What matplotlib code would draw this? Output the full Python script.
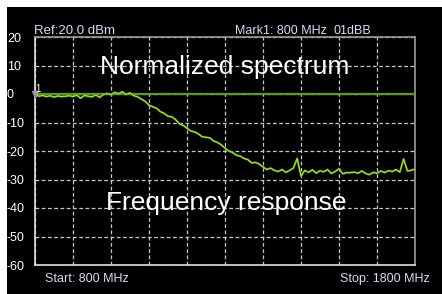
import numpy as np
import matplotlib
matplotlib.use('Agg')
import matplotlib.pyplot as plt
from matplotlib.patches import Rectangle

plt.rcParams['font.family'] = ['Liberation Sans', 'DejaVu Sans']

# sweep
start_mhz, stop_mhz = 800, 1800
level_ticks = [20, 10, 0, -10, -20, -30, -40, -50, -60]

# normalized spectrum (flat reference)
norm_freq = [800, 1800]
norm_db = [0.0, 0.0]

# frequency response, 10 MHz steps
resp_db = [
    -0.2, -0.8, -0.5, -0.9, -0.6, -1.1, -0.7, -0.9, -0.8, -0.6,
    -0.9, -0.4, -1.5, -0.5, -0.8, -1.0, -0.3, -1.2, -0.2, 0.2,
    -0.3, 0.6, 0.1, 0.8, -0.2, 0.4, -0.6, -1.0, -1.8, -2.6,
    -3.9, -4.5, -5.0, -6.2, -6.8, -7.8, -8.0, -9.0, -10.5, -11.0,
    -12.0, -13.0, -13.3, -14.0, -15.0, -15.2, -15.4, -16.5, -17.0, -17.8,
    -19.0, -20.0, -20.5, -21.5, -21.8, -22.6, -23.0, -24.2, -24.0, -24.6,
    -25.6, -26.5, -26.0, -26.8, -27.2, -26.5, -27.5, -26.8, -26.0, -22.6,
    -28.8, -26.8, -27.5, -26.6, -27.8, -26.9, -27.3, -26.5, -27.9, -27.2,
    -26.2, -28.0, -27.6, -27.6, -27.4, -27.8, -27.0, -27.9, -28.3, -27.5,
    -27.8, -27.0, -27.6, -26.9, -27.2, -26.5, -27.4, -22.8, -27.0, -26.8,
    -26.3,
]
resp_freq = np.linspace(start_mhz, stop_mhz, len(resp_db))

mark_freq, mark_db = 800, 0

W, H = 442, 294
fig = plt.figure(figsize=(W / 100, H / 100), dpi=100)
fig.patch.set_facecolor('white')
fig.patches.append(Rectangle((7 / W, 0), 1 - 7 / W, (H - 7) / H,
                             transform=fig.transFigure, facecolor='black',
                             edgecolor='none', zorder=-10))

ax = fig.add_axes([35 / W, (H - 265) / H, 380 / W, 228 / H])
ax.set_zorder(1)
ax.set_facecolor('black')
ax.set_xlim(start_mhz, stop_mhz)
ax.set_ylim(-60, 20)

ax.set_xticks(np.linspace(start_mhz, stop_mhz, 11))
ax.set_yticks(level_ticks)
ax.set_xticklabels([])
ax.set_yticklabels([str(v) for v in level_ticks], color='white', fontsize=9,
                   ha='left')
ax.tick_params(axis='y', length=0, pad=20.2)
ax.tick_params(axis='x', length=0)
ax.grid(True, color='#c8c8c8', linestyle=(0, (3, 2)), linewidth=0.9)

for side in ['top', 'right']:
    ax.spines[side].set_color('#9a9a9a')
for side in ['left', 'bottom']:
    ax.spines[side].set_color('#e0e0e0')
for s in ax.spines.values():
    s.set_linewidth(1.2)

ax.plot(norm_freq, norm_db, color='#5f9a18', linewidth=1.6, zorder=3)
ax.plot(resp_freq, resp_db, color='#4f8a10', linewidth=1.5, zorder=4)
ax.plot(resp_freq, resp_db, color='#b2ee2c', linewidth=0.7, zorder=5)

ax.plot([mark_freq], [mark_db], marker='v', color='#9a9a9a', markersize=4,
        clip_on=False, zorder=6)
ax.text(mark_freq + 2, mark_db + 0.6, '1', color='white', fontsize=7, zorder=7)

def ftext(x, y, s, **kw):
    fig.text(x / W, (H - y) / H, s, va='baseline', zorder=5, **kw)

ftext(100, 74, 'Normalized spectrum', color='white', fontsize=19)
ftext(106, 210, 'Frequency response', color='white', fontsize=19)

lab = '#d4dcf0'
ftext(34, 34, 'Ref:20.0 dBm', color=lab, fontsize=9.5)
ftext(235, 34, 'Mark1: 800 MHz', color=lab, fontsize=9)
ftext(333, 34, '01dBB', color=lab, fontsize=9)
ftext(45, 282, 'Start: 800 MHz', color=lab, fontsize=9)
ftext(340, 282, 'Stop: 1800 MHz', color=lab, fontsize=9)

fig.savefig('out.png', dpi=100, facecolor=fig.get_facecolor())
